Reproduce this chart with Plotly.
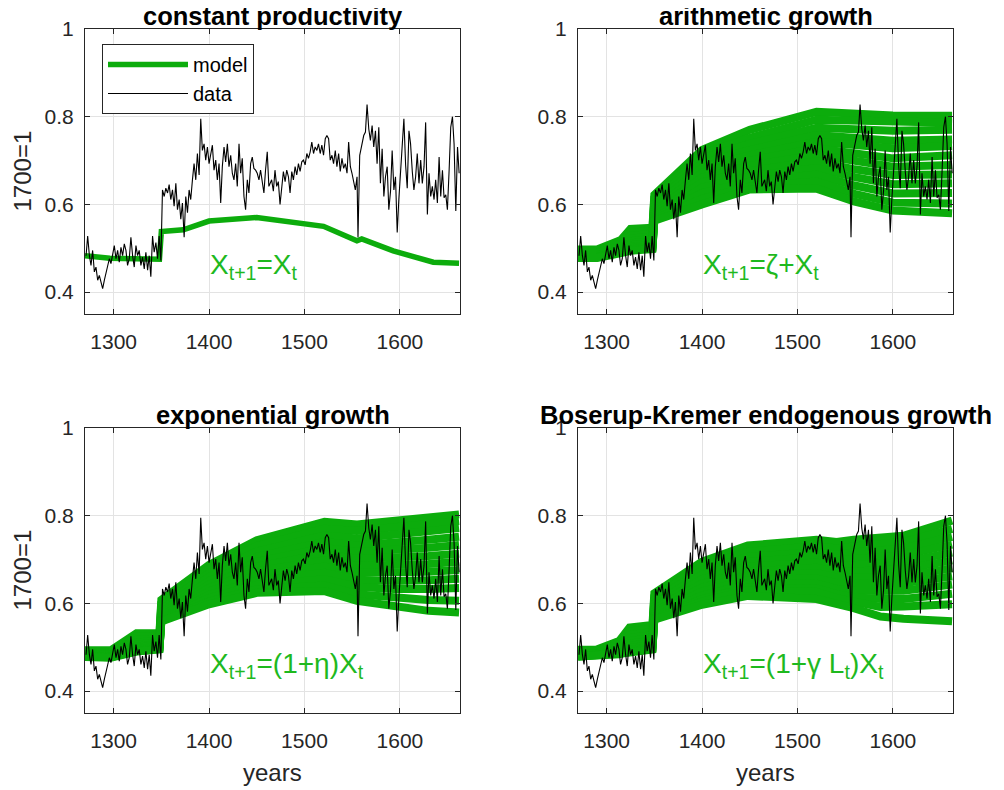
import plotly.graph_objects as go

# ---------------- data ----------------
data_years = [
    1271.1, 1272.8, 1274.6, 1276.3, 1278.0, 1279.8, 1281.5, 1283.3, 1285.0, 1286.8,
    1288.5, 1290.3, 1292.0, 1293.7, 1295.5, 1297.2, 1299.0, 1300.7, 1302.5, 1304.2,
    1305.9, 1307.7, 1309.4, 1311.2, 1312.9, 1314.6, 1316.4, 1318.1, 1319.9, 1321.6,
    1323.4, 1325.1, 1326.8, 1328.6, 1330.3, 1332.1, 1333.8, 1335.6, 1337.3, 1339.0,
    1340.8, 1342.5, 1344.3, 1346.0, 1347.7, 1349.5, 1351.2, 1353.0, 1354.7, 1356.5,
    1358.2, 1359.9, 1361.7, 1363.4, 1365.2, 1366.9, 1368.7, 1370.4, 1372.1, 1373.9,
    1375.6, 1377.4, 1379.1, 1380.8, 1382.6, 1384.3, 1386.1, 1387.8, 1389.6, 1391.3,
    1393.0, 1394.8, 1396.5, 1398.3, 1400.0, 1401.7, 1403.5, 1405.2, 1407.0, 1408.7,
    1410.5, 1412.2, 1413.9, 1415.7, 1417.4, 1419.2, 1420.9, 1422.7, 1424.4, 1426.1,
    1427.9, 1429.6, 1431.4, 1433.1, 1434.8, 1436.6, 1438.3, 1440.1, 1441.8, 1443.6,
    1445.3, 1447.0, 1448.8, 1450.5, 1452.3, 1454.0, 1455.7, 1457.5, 1459.2, 1461.0,
    1462.7,
    1465.6, 1467.4, 1469.1, 1470.9, 1472.6, 1474.4, 1476.2, 1477.9, 1479.7, 1481.4,
    1483.2, 1484.9, 1486.7, 1488.4, 1490.2, 1491.9, 1493.7, 1495.4, 1497.2, 1498.9,
    1500.7, 1502.5, 1504.2, 1506.0, 1507.7, 1509.5, 1511.2, 1513.0, 1514.7, 1516.5,
    1518.2, 1520.0, 1521.8, 1523.5, 1525.3, 1527.0, 1528.8, 1530.5, 1532.3, 1534.0,
    1535.8, 1537.5, 1539.3, 1541.1, 1542.8, 1544.6, 1546.3, 1548.1, 1549.8, 1551.6,
    1553.3, 1555.1, 1556.1, 1557.9, 1560.4, 1562.1, 1563.9, 1565.6, 1567.4, 1569.1,
    1570.9, 1572.6, 1574.4, 1576.1, 1577.9, 1579.6, 1581.4, 1583.2, 1584.9, 1586.7,
    1588.4, 1590.2, 1591.9, 1593.7, 1595.4, 1597.2, 1598.9, 1600.7, 1602.5, 1604.2,
    1606.0, 1607.7, 1609.5, 1611.2, 1613.0, 1614.7, 1616.5, 1618.2, 1620.0, 1621.8,
    1623.5, 1625.3, 1627.0, 1628.8, 1630.5, 1632.3, 1634.0, 1635.8, 1637.5, 1639.3,
    1641.1, 1642.8, 1644.6, 1646.3, 1648.1, 1649.8, 1651.6, 1653.3, 1655.1, 1656.8,
    1658.6, 1660.4, 1662.1,
]
data_values = [
    0.483, 0.528, 0.483, 0.461, 0.495, 0.446, 0.457, 0.427, 0.438, 0.420,
    0.408, 0.427, 0.442, 0.461, 0.476, 0.465, 0.483, 0.506, 0.476, 0.495,
    0.468, 0.502, 0.483, 0.510, 0.495, 0.461, 0.476, 0.525, 0.483, 0.457,
    0.506, 0.483, 0.495, 0.461, 0.480, 0.453, 0.491, 0.450, 0.483, 0.435,
    0.528, 0.491, 0.513, 0.476, 0.528, 0.472, 0.633, 0.618, 0.637, 0.626,
    0.645, 0.611, 0.633, 0.596, 0.648, 0.588, 0.611, 0.566, 0.603, 0.525,
    0.618, 0.581, 0.633, 0.611, 0.656, 0.693, 0.656, 0.716, 0.667, 0.795,
    0.723, 0.738, 0.701, 0.731, 0.693, 0.716, 0.735, 0.678, 0.701, 0.656,
    0.693, 0.603, 0.686, 0.731, 0.697, 0.738, 0.686, 0.712, 0.671, 0.656,
    0.693, 0.641, 0.738, 0.671, 0.705, 0.618, 0.588, 0.656, 0.626, 0.693,
    0.708, 0.682, 0.678, 0.671, 0.656, 0.678, 0.648, 0.626, 0.678, 0.720,
    0.641,
    0.656, 0.630, 0.678, 0.641, 0.652, 0.600, 0.645, 0.675, 0.652, 0.678,
    0.663, 0.626, 0.675, 0.656, 0.686, 0.667, 0.693, 0.675, 0.697, 0.701,
    0.690, 0.716, 0.705, 0.720, 0.742, 0.716, 0.731, 0.723, 0.738, 0.716,
    0.735, 0.712, 0.750, 0.757, 0.750, 0.701, 0.712, 0.693, 0.723, 0.686,
    0.716, 0.675, 0.705, 0.682, 0.693, 0.671, 0.742, 0.686, 0.671, 0.648,
    0.633, 0.663, 0.525, 0.712, 0.738, 0.757, 0.765, 0.828, 0.772, 0.746,
    0.780, 0.731, 0.768, 0.693, 0.776, 0.648, 0.727, 0.618, 0.663, 0.686,
    0.588, 0.630, 0.723, 0.633, 0.663, 0.536, 0.611, 0.678, 0.746, 0.795,
    0.690, 0.637, 0.768, 0.738, 0.675, 0.633, 0.663, 0.716, 0.648, 0.701,
    0.648, 0.686, 0.787, 0.577, 0.671, 0.618, 0.641, 0.611, 0.656, 0.603,
    0.708, 0.618, 0.678, 0.615, 0.622, 0.588, 0.678, 0.776, 0.800, 0.738,
    0.585, 0.731, 0.671,
]

# constant productivity model
const_years = [1270, 1296, 1348, 1350, 1373, 1400, 1450, 1520, 1555, 1560, 1593, 1635, 1662]
const_values = [0.483, 0.477, 0.475, 0.538, 0.542, 0.562, 0.570, 0.550, 0.517, 0.521, 0.494, 0.468, 0.466]

# arithmetic growth model paths
arith_years = [1270, 1290, 1315, 1325, 1348, 1350, 1400, 1450, 1520, 1560, 1600, 1662]
arith_paths = [
    [0.497, 0.497, 0.519, 0.544, 0.547, 0.622, 0.724, 0.770, 0.811, 0.806, 0.803, 0.802],
    [0.495, 0.495, 0.515, 0.535, 0.540, 0.615, 0.715, 0.752, 0.793, 0.790, 0.788, 0.786],
    [0.493, 0.493, 0.512, 0.528, 0.533, 0.608, 0.705, 0.738, 0.775, 0.770, 0.768, 0.770],
    [0.491, 0.491, 0.509, 0.522, 0.527, 0.601, 0.694, 0.724, 0.758, 0.752, 0.745, 0.748],
    [0.489, 0.489, 0.506, 0.516, 0.521, 0.595, 0.683, 0.712, 0.743, 0.735, 0.728, 0.733],
    [0.487, 0.487, 0.503, 0.511, 0.516, 0.589, 0.672, 0.700, 0.728, 0.715, 0.705, 0.712],
    [0.485, 0.485, 0.500, 0.507, 0.512, 0.584, 0.661, 0.688, 0.713, 0.698, 0.686, 0.690],
    [0.483, 0.483, 0.497, 0.503, 0.508, 0.579, 0.650, 0.676, 0.698, 0.680, 0.667, 0.668],
    [0.481, 0.481, 0.495, 0.500, 0.505, 0.574, 0.638, 0.664, 0.683, 0.662, 0.646, 0.648],
    [0.480, 0.480, 0.493, 0.498, 0.502, 0.570, 0.626, 0.652, 0.668, 0.643, 0.625, 0.626],
    [0.479, 0.479, 0.491, 0.496, 0.500, 0.566, 0.613, 0.641, 0.652, 0.624, 0.604, 0.602],
    [0.478, 0.478, 0.489, 0.494, 0.498, 0.563, 0.600, 0.634, 0.636, 0.606, 0.586, 0.580],
]

# exponential growth model paths
expo_years = [1270, 1297, 1324, 1348, 1350, 1400, 1450, 1521, 1555, 1593, 1630, 1662]
expo_paths = [
    [0.493, 0.493, 0.532, 0.532, 0.608, 0.688, 0.744, 0.786, 0.780, 0.787, 0.797, 0.803],
    [0.491, 0.491, 0.524, 0.526, 0.600, 0.679, 0.731, 0.770, 0.765, 0.773, 0.782, 0.788],
    [0.489, 0.489, 0.517, 0.520, 0.593, 0.669, 0.718, 0.755, 0.748, 0.755, 0.764, 0.772],
    [0.488, 0.487, 0.511, 0.515, 0.586, 0.660, 0.706, 0.740, 0.732, 0.737, 0.745, 0.752],
    [0.486, 0.485, 0.506, 0.511, 0.580, 0.651, 0.695, 0.726, 0.717, 0.720, 0.727, 0.733],
    [0.485, 0.484, 0.502, 0.507, 0.575, 0.643, 0.684, 0.712, 0.702, 0.703, 0.708, 0.713],
    [0.483, 0.482, 0.499, 0.504, 0.571, 0.635, 0.673, 0.698, 0.686, 0.686, 0.690, 0.695],
    [0.482, 0.481, 0.496, 0.501, 0.567, 0.627, 0.663, 0.684, 0.670, 0.669, 0.672, 0.676],
    [0.481, 0.479, 0.494, 0.499, 0.564, 0.619, 0.652, 0.670, 0.654, 0.651, 0.653, 0.656],
    [0.480, 0.478, 0.492, 0.497, 0.562, 0.612, 0.642, 0.655, 0.638, 0.633, 0.633, 0.635],
    [0.479, 0.477, 0.491, 0.496, 0.560, 0.604, 0.632, 0.641, 0.621, 0.613, 0.608, 0.606],
    [0.478, 0.476, 0.490, 0.495, 0.559, 0.598, 0.624, 0.628, 0.606, 0.594, 0.583, 0.579],
]

# Boserup-Kremer model paths
bk_years = [1270, 1289, 1313, 1324, 1348, 1350, 1400, 1448, 1520, 1541, 1559, 1587, 1611, 1662]
bk_paths = [
    [0.494, 0.494, 0.514, 0.545, 0.551, 0.623, 0.695, 0.732, 0.745, 0.740, 0.745, 0.749, 0.754, 0.789],
    [0.492, 0.492, 0.510, 0.536, 0.543, 0.615, 0.685, 0.718, 0.730, 0.725, 0.730, 0.735, 0.740, 0.770],
    [0.490, 0.490, 0.506, 0.528, 0.535, 0.607, 0.675, 0.706, 0.717, 0.711, 0.716, 0.720, 0.725, 0.752],
    [0.488, 0.488, 0.502, 0.521, 0.528, 0.600, 0.665, 0.695, 0.705, 0.698, 0.701, 0.705, 0.710, 0.734],
    [0.486, 0.486, 0.498, 0.514, 0.521, 0.593, 0.655, 0.684, 0.693, 0.685, 0.687, 0.690, 0.694, 0.716],
    [0.484, 0.485, 0.495, 0.508, 0.515, 0.587, 0.645, 0.673, 0.681, 0.672, 0.673, 0.675, 0.678, 0.698],
    [0.483, 0.484, 0.492, 0.503, 0.510, 0.581, 0.636, 0.663, 0.669, 0.659, 0.658, 0.660, 0.662, 0.680],
    [0.482, 0.483, 0.489, 0.498, 0.505, 0.576, 0.627, 0.653, 0.657, 0.646, 0.644, 0.644, 0.646, 0.662],
    [0.481, 0.482, 0.487, 0.494, 0.501, 0.571, 0.618, 0.644, 0.645, 0.633, 0.629, 0.628, 0.629, 0.643],
    [0.480, 0.481, 0.485, 0.491, 0.498, 0.567, 0.610, 0.636, 0.634, 0.621, 0.614, 0.610, 0.610, 0.622],
    [0.479, 0.480, 0.484, 0.489, 0.496, 0.565, 0.604, 0.630, 0.626, 0.612, 0.603, 0.592, 0.593, 0.598],
    [0.478, 0.480, 0.483, 0.488, 0.495, 0.563, 0.597, 0.617, 0.610, 0.600, 0.589, 0.570, 0.565, 0.559],
]

titles = ["constant productivity", "arithmetic growth", "exponential growth",
          "Boserup-Kremer endogenous growth"]
formulas = ["X<sub>t+1</sub>=X<sub>t</sub>",
            "X<sub>t+1</sub>=ζ+X<sub>t</sub>",
            "X<sub>t+1</sub>=(1+η)X<sub>t</sub>",
            "X<sub>t+1</sub>=(1+γ L<sub>t</sub>)X<sub>t</sub>"]
x_ticks = [1300, 1400, 1500, 1600]
y_ticks = [0.4, 0.6, 0.8, 1.0]
y_ticklabels = ["0.4", "0.6", "0.8", "1"]

# ---------------- styling ----------------
W, H = 1004, 790
OFF = 8  # page body margin of the html page
GREEN = "rgb(12,172,12)"
TEXT_GREEN = "rgb(30,185,30)"
AX = "#262626"
FONT = "Liberation Sans, Arial, Helvetica, sans-serif"


def px_x(p):
    return (p - OFF) / W


def px_y(p):
    return 1 - (p - OFF) / H


xdoms = [[px_x(85), px_x(460)], [px_x(578), px_x(953)]]
ydoms = [[px_y(314), px_y(29)], [px_y(713), px_y(428)]]

fig = go.Figure()

panels = [
    (None, None),
    (arith_years, arith_paths),
    (expo_years, expo_paths),
    (bk_years, bk_paths),
]

for k in range(4):
    xa = "x" if k == 0 else f"x{k+1}"
    ya = "y" if k == 0 else f"y{k+1}"
    if k == 0:
        fig.add_trace(go.Scatter(x=const_years, y=const_values, mode="lines",
                                 line=dict(color=GREEN, width=5.5), name="model",
                                 xaxis=xa, yaxis=ya, showlegend=True))
    else:
        yrs, paths = panels[k]
        for p in paths:
            fig.add_trace(go.Scatter(x=yrs, y=p, mode="lines",
                                     line=dict(color=GREEN, width=8),
                                     xaxis=xa, yaxis=ya, showlegend=False,
                                     hoverinfo="skip"))
    fig.add_trace(go.Scatter(x=data_years, y=data_values, mode="lines",
                             line=dict(color="black", width=1.1), name="data",
                             xaxis=xa, yaxis=ya, showlegend=(k == 0)))

annotations = []
layout_axes = {}
for k in range(4):
    r, c = divmod(k, 2)
    xkey = "xaxis" if k == 0 else f"xaxis{k+1}"
    ykey = "yaxis" if k == 0 else f"yaxis{k+1}"
    xa = "x" if k == 0 else f"x{k+1}"
    ya = "y" if k == 0 else f"y{k+1}"
    common = dict(showline=True, linecolor=AX, linewidth=1, mirror="ticks",
                  ticks="inside", ticklen=5, tickcolor=AX, showgrid=True,
                  gridcolor="#e3e3e3", gridwidth=1, zeroline=False,
                  tickfont=dict(family=FONT, size=21, color=AX))
    layout_axes[xkey] = dict(common, domain=xdoms[c], range=[1270, 1663],
                             tickvals=x_ticks, anchor=ya, ticklabelstandoff=9)
    layout_axes[ykey] = dict(common, domain=ydoms[r], range=[0.35, 1.0],
                             tickvals=y_ticks, ticktext=y_ticklabels, anchor=xa,
                             ticklabelstandoff=6)
    annotations.append(dict(text=f"<b>{titles[k]}</b>", xref="paper", yref="paper",
                            x=(xdoms[c][0] + xdoms[c][1]) / 2, y=ydoms[r][1],
                            xanchor="center", yanchor="bottom", yshift=-3,
                            showarrow=False,
                            font=dict(family=FONT, size=25.5, color="black")))
    annotations.append(dict(text=formulas[k], xref=xa, yref=ya, x=1399, y=0.458,
                            xanchor="left", yanchor="middle", showarrow=False,
                            font=dict(family=FONT, size=28, color=TEXT_GREEN)))

for r in range(2):
    annotations.append(dict(text="1700=1", xref="paper", yref="paper",
                            x=px_x(22), y=(ydoms[r][0] + ydoms[r][1]) / 2,
                            xanchor="center", yanchor="middle", textangle=-90,
                            showarrow=False,
                            font=dict(family=FONT, size=24, color=AX)))
for c in range(2):
    annotations.append(dict(text="years", xref="paper", yref="paper",
                            x=(xdoms[c][0] + xdoms[c][1]) / 2, y=px_y(772),
                            xanchor="center", yanchor="middle", showarrow=False,
                            font=dict(family=FONT, size=24, color=AX)))

fig.update_layout(
    width=W, height=H, margin=dict(l=0, r=0, t=0, b=0, autoexpand=False),
    paper_bgcolor="white", plot_bgcolor="white",
    annotations=annotations,
    legend=dict(x=px_x(102), y=px_y(44), xanchor="left", yanchor="top",
                bgcolor="white", bordercolor=AX, borderwidth=1,
                font=dict(family=FONT, size=20, color="black"),
                itemwidth=80, tracegroupgap=0),
    **layout_axes,
)

fig.write_html("out.html")
